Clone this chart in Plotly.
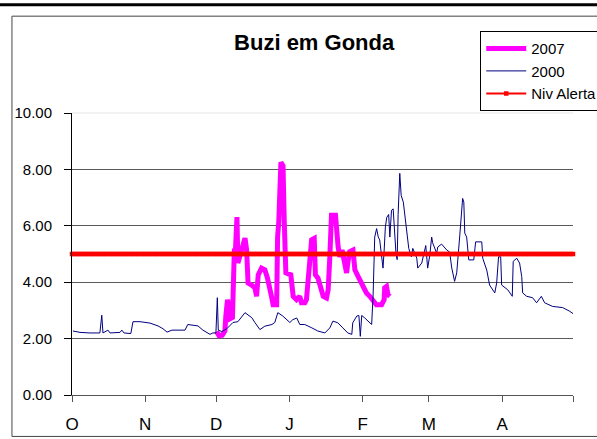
import plotly.graph_objects as go

# x values: days since 1 October (hydrological year), y values: water level (m)
month_ticks = [0, 31, 61, 92, 123, 151, 182, 212]
month_labels = ["O", "N", "D", "J", "F", "M", "A", ""]

days_2000 = [0.4, 3.4, 7.6, 11.8, 12.6, 13.1, 15.2, 16.1, 20.3, 21.1, 22.0, 24.9, 25.8, 28.8, 33.0,
             36.4, 38.5, 40.2, 42.3, 47.8, 49.0, 53.3, 55.4, 58.4, 59.6, 60.9, 61.5, 61.9, 63.4,
             65.5, 68.1, 70.2, 73.2, 74.4, 76.1, 77.4, 79.5, 81.6, 84.6, 85.8, 87.1, 89.2, 92.2,
             93.4, 95.1, 96.4, 98.5, 101.5, 104.0, 107.0, 109.1, 110.4, 112.5, 114.6, 116.7,
             118.4, 118.8, 120.5, 121.4, 122.0, 122.6, 123.9, 126.0, 126.8, 127.4, 128.1, 128.9,
             129.6, 130.2, 131.1, 131.6, 132.1, 132.6, 133.2, 134.0, 134.5, 135.2, 135.9, 136.4,
             137.1, 137.6, 138.0, 138.7, 139.3, 140.2, 141.5, 142.5, 143.6, 144.2, 145.9, 146.3,
             148.0, 149.7, 150.5, 151.4, 152.2, 152.6, 154.3, 154.8, 156.4, 158.6, 159.8, 160.7,
             161.9, 162.8, 164.1, 165.3, 165.8, 166.2, 167.0, 167.9, 170.0, 170.8, 173.4, 173.8,
             175.5, 176.7, 178.9, 179.7, 180.5, 181.4, 181.8, 184.4, 186.3, 186.7, 188.2, 189.4,
             190.3, 190.7, 192.4, 194.9, 196.6, 198.6, 200.0, 203.4, 207.6, 210.6, 213.1]
level_2000 = [2.27, 2.22, 2.20, 2.20, 2.83, 2.20, 2.30, 2.20, 2.22, 2.30, 2.20, 2.18, 2.60, 2.60, 2.55,
              2.45, 2.35, 2.23, 2.30, 2.30, 2.50, 2.45, 2.30, 2.15, 2.20, 2.20, 3.45, 2.30, 2.25,
              2.35, 2.57, 2.60, 2.92, 2.85, 2.74, 2.57, 2.32, 2.44, 2.50, 2.57, 2.92, 2.80, 2.57,
              2.67, 2.73, 2.50, 2.50, 2.38, 2.27, 2.20, 2.38, 2.62, 2.56, 2.38, 2.20,
              2.15, 2.56, 2.80, 2.82, 2.08, 2.82, 2.73, 2.56, 2.50, 3.50, 5.60, 5.90,
              5.60, 5.50, 4.85, 4.50, 5.14, 5.96, 6.30, 6.40, 5.60, 6.55, 6.60, 5.73,
              5.00, 4.80, 6.40, 7.86, 7.07, 6.84, 5.96, 5.20, 4.90, 5.20, 4.85, 4.50,
              4.68, 5.30, 4.50, 4.96, 5.60, 5.40, 5.03, 5.25, 5.35, 5.14, 5.07, 4.50,
              4.03, 4.33, 5.67, 6.97, 6.84, 5.74, 5.60, 4.79, 4.79, 5.43, 5.43, 4.85,
              4.43, 3.90, 3.62, 3.97, 4.90, 4.90, 3.90, 3.73, 3.50, 4.74, 4.85, 4.68,
              4.20, 3.62, 3.50, 3.45, 3.27, 3.50, 3.27, 3.14, 3.10, 2.97, 2.82]

days_2007 = [61.2, 62.2, 63.6, 64.7, 65.1, 65.8, 66.4, 66.8, 67.9, 68.2, 68.4, 68.7, 69.2, 69.8,
             70.2, 71.0, 72.0, 73.2, 73.9, 74.3, 74.5, 76.0, 77.4, 78.1, 78.8, 80.2, 81.6, 82.7,
             83.7, 84.4, 85.1, 86.6, 87.0, 87.5, 88.4, 89.3, 89.8, 90.1, 90.5, 92.6, 92.9, 93.6,
             95.0, 96.4, 97.1, 98.5, 99.2, 99.9, 100.6, 101.4, 102.5, 103.0, 104.1, 104.9, 105.6,
             106.3, 107.7, 108.4, 109.1, 109.5, 109.8, 111.5, 111.9, 112.6, 113.3, 114.3, 115.1,
             116.2, 116.8, 117.5, 118.9, 119.7, 121.1, 122.5, 123.2, 124.6, 126.0, 127.4, 128.8,
             131.0, 132.1, 132.3, 133.1, 133.7, 134.5]
level_2007 = [2.25, 2.10, 2.12, 2.27, 2.80, 3.38, 3.03, 2.70, 2.75, 3.90, 4.44, 5.14, 5.20, 6.31,
              4.68, 4.90, 5.20, 5.56, 5.14, 4.68, 3.97, 3.90, 3.80, 3.50, 4.26, 4.50, 4.44, 4.15,
              3.85, 3.50, 3.20, 3.20, 5.60, 6.14, 8.25, 8.13, 6.20, 5.14, 4.33, 4.26, 3.80, 3.50,
              3.38, 3.50, 3.27, 3.27, 3.38, 4.08, 4.68, 5.50, 5.55, 4.26, 4.14, 3.90, 3.73,
              3.50, 3.44, 3.73, 4.90, 5.84, 6.37, 6.37, 5.73, 5.26, 4.90, 5.14, 4.79,
              4.33, 4.73, 5.08, 5.14, 4.44, 4.20, 3.97, 3.80, 3.62, 3.50, 3.38, 3.20,
              3.20, 3.38, 3.80, 3.85, 3.56, 3.50]

alert_level = 5.0
alert_days = list(range(0, 213))
alert_values = [alert_level for _ in alert_days]

y_ticks = [0, 2, 4, 6, 8, 10]

FONT = "Liberation Sans, Arial, sans-serif"

fig = go.Figure()
fig.add_trace(go.Scatter(x=days_2007, y=level_2007, name="2007", mode="lines",
                         line=dict(color="#FF00FF", width=5)))
fig.add_trace(go.Scatter(x=days_2000, y=level_2000, name="2000", mode="lines",
                         line=dict(color="#000080", width=1)))
fig.add_trace(go.Scatter(x=alert_days, y=alert_values, name="Niv Alerta", mode="lines+markers",
                         line=dict(color="#FF0000", width=2),
                         marker=dict(symbol="square", size=4.5, color="#FF0000"),
                         cliponaxis=False))

L, R, T, B = 72, 24.3, 113, 43.5
W, H = 597, 439
pw = W - L - R
ph = H - T - B

def px_x(x):
    return (x - L) / pw

def px_y(y):
    return (H - B - y) / ph

shapes = [
    # outer chart frame
    dict(type="rect", xref="paper", yref="paper", x0=px_x(12), x1=px_x(640), y0=px_y(437), y1=px_y(16),
         line=dict(color="#444444", width=1), layer="below"),
    # top document rule
    dict(type="line", xref="paper", yref="paper", x0=px_x(0), x1=px_x(597), y0=px_y(4.5), y1=px_y(4.5),
         line=dict(color="#000000", width=3)),
    # light top grid line
    dict(type="line", xref="paper", yref="paper", x0=0, x1=1, y0=1, y1=1,
         line=dict(color="#e6e6e6", width=1), layer="below"),
]

fig.update_layout(
    width=W, height=H,
    margin=dict(l=L, r=R, t=T, b=B, autoexpand=False),
    paper_bgcolor="white", plot_bgcolor="white",
    font=dict(family=FONT, color="#000000", size=16),
    title=dict(text="<b>Buzi em Gonda</b>", font=dict(family=FONT, size=22, color="#000000"),
               xref="paper", x=px_x(314), xanchor="center",
               yref="container", y=1 - 42 / H, yanchor="middle"),
    showlegend=True,
    legend=dict(x=px_x(480), y=px_y(31), xanchor="left", yanchor="top",
                bgcolor="white", bordercolor="#000000", borderwidth=1,
                font=dict(family=FONT, size=15, color="#000000"),
                tracegroupgap=0, itemwidth=40),
    shapes=shapes,
)

fig.update_xaxes(range=[0, 212], tickmode="array", tickvals=month_ticks, ticktext=month_labels,
                 showline=True, linecolor="#555555", linewidth=1,
                 ticks="outside", ticklen=6, tickcolor="#555555",
                 showgrid=False, zeroline=False, tickfont=dict(size=17), ticklabelstandoff=8)
fig.update_yaxes(range=[0, 10], tickmode="array", tickvals=y_ticks, tickformat=".2f",
                 showline=True, linecolor="#000000", linewidth=1,
                 ticks="outside", ticklen=7, tickcolor="#000000",
                 showgrid=True, gridcolor="#5a5a5a", gridwidth=1,
                 zeroline=False, tickfont=dict(size=15), ticklabelstandoff=9)

fig.write_html("out.html", config={"displayModeBar": False},
               post_script="document.body.style.margin='0';document.body.style.overflow='hidden';")
